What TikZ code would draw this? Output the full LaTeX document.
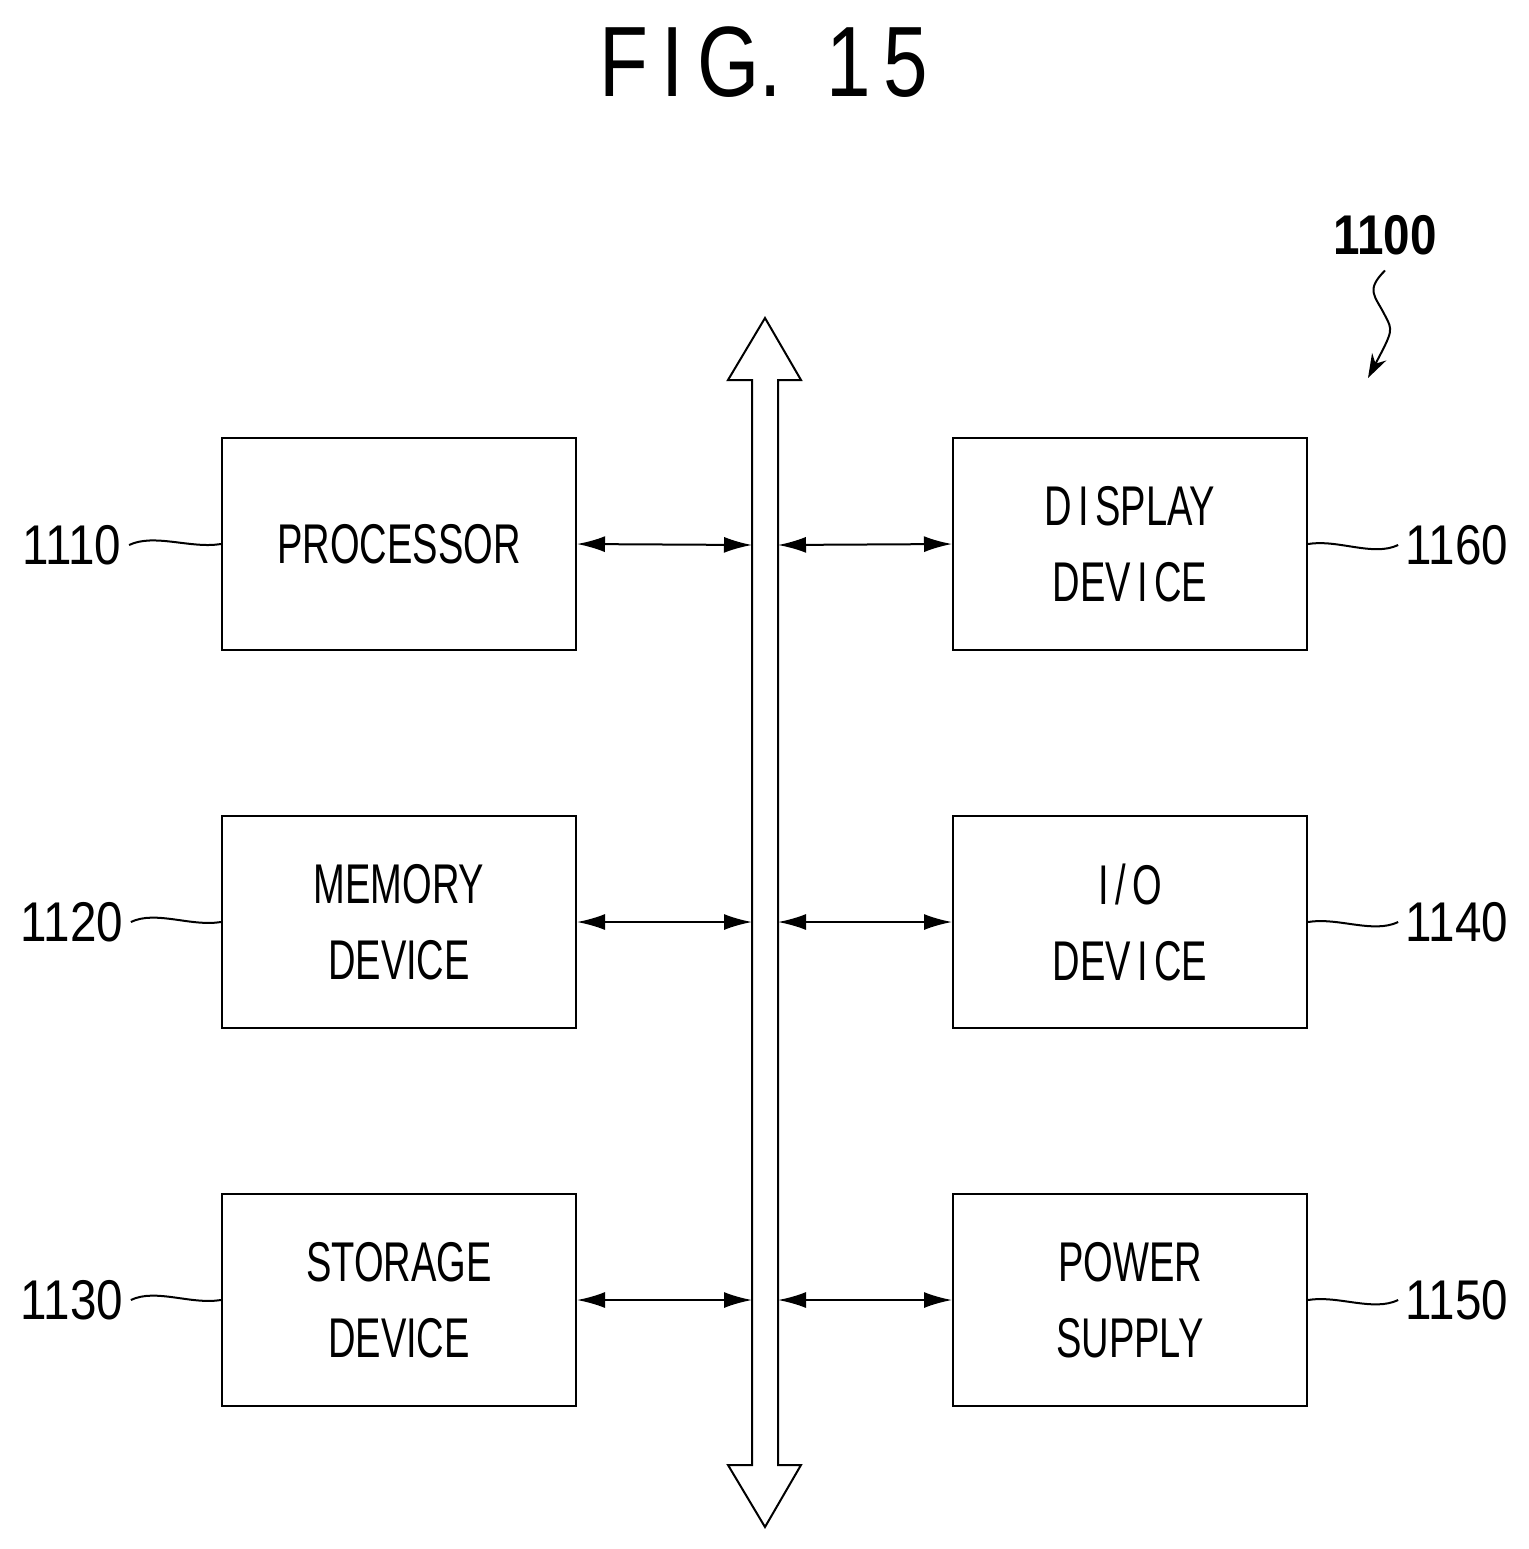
\documentclass[tikz,border=0pt]{standalone}
\usepackage{fontspec}
\setmainfont{Liberation Sans}
\usetikzlibrary{arrows.meta}
\newcommand{\bx}[1]{\scalebox{0.68}[1]{#1}}
\newcommand{\nm}[1]{\scalebox{0.85}[1]{#1}}
\begin{document}
\begin{tikzpicture}[x=0.5pt,y=-0.5pt,line width=1pt,
  box/.style={draw,minimum width=177pt,minimum height=106pt,font=\fontsize{28}{34}\selectfont,align=center},
  num/.style={font=\fontsize{28}{34}\selectfont},
  conn/.style={{Latex[length=14pt,width=8pt]}-{Latex[length=14pt,width=8pt]}}]
\useasboundingbox (0,0) rectangle (1529,1549);
\node[font=\fontsize{50}{60}\selectfont] (title) at (764,62) {\scalebox{0.8}[1]{F\,I\,G.\ \ 1\,5}};
% bus
\draw[fill=white] (752,380) -- (728,380) -- (765,318) -- (801,380) -- (778,380) -- (778,1465) -- (801,1465) -- (765,1527) -- (728,1465) -- (752,1465) -- cycle;
\coordinate (bl1) at (752,545); \coordinate (br1) at (778,545);
\coordinate (bl2) at (752,922); \coordinate (br2) at (778,922);
\coordinate (bl3) at (752,1300); \coordinate (br3) at (778,1300);
% boxes
\node[box] (p) at (399,544) {\bx{PROCESSOR}};
\node[box] (m) at (399,922) {\bx{MEMORY}\\[4pt]\bx{DEVICE}};
\node[box] (s) at (399,1300) {\bx{STORAGE}\\[4pt]\bx{DEVICE}};
\node[box] (d) at (1130,544) {\bx{D\,I\,SPLAY}\\[4pt]\bx{DEV\,I\,CE}};
\node[box] (io) at (1130,922) {\bx{I\,/\,O}\\[4pt]\bx{DEV\,I\,CE}};
\node[box] (ps) at (1130,1300) {\bx{POWER}\\[4pt]\bx{SUPPLY}};
\draw[conn] (p.east) -- (bl1);
\draw[conn] (m.east) -- (bl2);
\draw[conn] (s.east) -- (bl3);
\draw[conn] (br1) -- (d.west);
\draw[conn] (br2) -- (io.west);
\draw[conn] (br3) -- (ps.west);
% labels
\node[num] (n1) at (72,545) {\nm{1110}};
\node[num] (n2) at (72,922) {\nm{1120}};
\node[num] (n3) at (72,1300) {\nm{1130}};
\node[num] (n6) at (1457,545) {\nm{1160}};
\node[num] (n4) at (1457,922) {\nm{1140}};
\node[num] (n5) at (1457,1300) {\nm{1150}};
\foreach \n/\b in {n1/p,n2/m,n3/s}{
  \draw (\n.east) .. controls ++(25,-12) and ++(-30,5) .. (\b.west);}
\foreach \n/\b in {n6/d,n4/io,n5/ps}{
  \draw (\b.east) .. controls ++(30,-5) and ++(-25,12) .. (\n.west);}
\node[num,font=\bfseries\fontsize{28}{34}\selectfont] (top) at (1385,235) {\nm{1100}};
\coordinate (tip) at (1368,378);
\draw[-{Stealth[length=12pt,width=8pt]}] (top.south) ++(0,8) .. controls ++(-20,20) and ++(-10,-20) .. ++(0,45) .. controls ++(8,15) .. (tip);
\end{tikzpicture}
\end{document}
